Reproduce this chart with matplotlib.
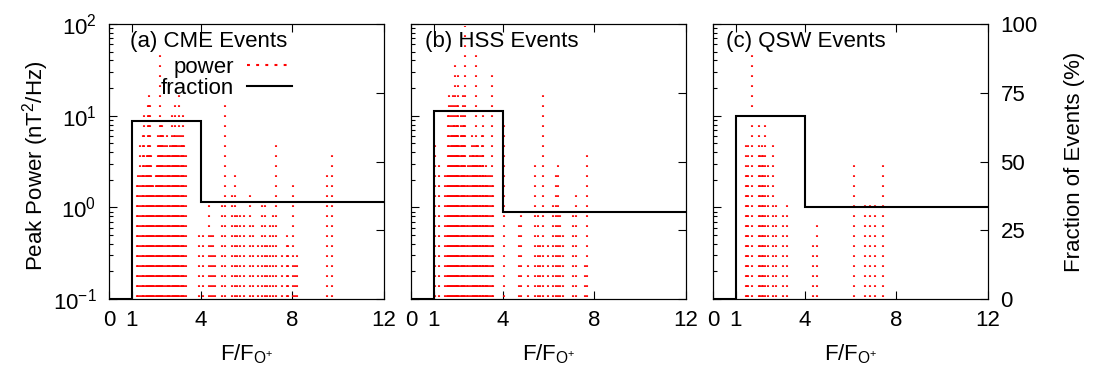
import matplotlib.pyplot as plt
from matplotlib.lines import Line2D

plt.rcParams['font.family'] = ['Liberation Sans', 'DejaVu Sans']
plt.rcParams['mathtext.default'] = 'regular'
plt.rcParams['font.size'] = 16

# bin edges of the fraction step curve
edges = [0, 1, 4, 12]

# (a) CME events: frequency ratio and peak power of each event
cme_freq = [1.24, 1.28, 1.35, 1.42, 1.50, 1.53, 1.60, 1.64, 1.69, 1.745, 1.79, 1.84,
            1.88, 1.93, 1.98, 2.03, 2.08, 2.12, 2.17, 2.21, 2.26, 2.30, 2.37, 2.45,
            2.52, 2.57, 2.62, 2.67, 2.74, 2.79, 2.84, 2.88, 2.93, 2.98, 3.02, 3.07,
            3.13, 3.18, 3.24, 3.29, 3.36,
            3.91, 4.12, 4.35, 4.44, 4.55, 4.62, 4.92, 5.06, 5.35, 5.50, 5.57, 5.72,
            5.89, 6.15, 6.30, 6.52, 6.66, 6.81, 6.88, 7.02, 7.14, 7.29, 7.53, 7.75,
            7.82, 8.01, 8.12, 8.22, 9.50, 9.74]
cme_power = [1.8, 2.3, 4.9, 2.3, 6.3, 10.5, 3.0, 3.8, 13.5, 17.3, 13.5, 3.8,
             1.8, 1.8, 1.4, 2.3, 3.0, 6.3, 4.9, 47, 8.1, 8.1, 6.3, 4.9,
             6.3, 3.8, 3.8, 4.9, 10.5, 4.9, 6.3, 13.5, 4.9, 6.3, 3.8, 17.3,
             6.3, 4.9, 10.5, 4.9, 3.8,
             0.52, 0.52, 1.09, 0.52, 0.52, 0.31, 1.09, 13.5, 1.4, 2.3, 0.85, 0.85,
             0.85, 1.4, 0.66, 0.40, 1.09, 1.09, 0.40, 0.66, 0.85, 4.9, 0.31, 0.52,
             0.40, 1.8, 0.24, 0.31, 2.3, 3.8]
cme_fraction = [0, 64.7, 35.3]

# (b) HSS events
hss_freq = [1.05, 1.22, 1.48, 1.56, 1.63, 1.67, 1.70, 1.73, 1.77, 1.82, 1.87, 1.92,
            1.95, 1.99, 2.02, 2.06, 2.11, 2.17, 2.22, 2.28, 2.32, 2.36, 2.43, 2.50,
            2.57, 2.65, 2.70, 2.75, 2.79, 2.84, 2.89, 2.94, 2.99, 3.03, 3.08, 3.12,
            3.15, 3.21, 3.27, 3.32, 3.37, 3.45, 3.52, 3.59,
            4.06, 4.73, 4.79, 5.12, 5.41, 5.56, 5.63, 5.77, 5.99, 6.21, 6.33, 6.40,
            6.50, 6.62, 7.08, 7.19, 7.59, 7.66]
hss_power = [4.9, 3.0, 2.3, 2.3, 10.5, 17.3, 3.8, 13.5, 6.3, 17.3, 8.1, 36.7,
             6.3, 13.5, 8.1, 28.6, 4.9, 10.5, 6.3, 17.3, 8.1, 95, 2.3, 3.0,
             3.8, 6.3, 3.8, 4.9, 3.0, 47, 4.9, 4.9, 3.8, 3.0, 6.3, 3.8,
             10.5, 2.3, 3.0, 1.8, 2.3, 2.3, 28.6, 1.8,
             8.1, 0.66, 0.85, 0.24, 3.0, 0.85, 0.40, 17.3, 0.40, 1.09, 2.3, 3.0,
             0.85, 0.52, 0.85, 1.4, 0.24, 3.8]
hss_fraction = [0, 68.4, 31.6]

# (c) QSW events
qsw_freq = [1.44, 1.49, 1.54, 1.69, 2.02, 2.07, 2.12, 2.20, 2.27, 2.41, 2.63, 2.75,
            3.04, 3.24, 4.38, 4.52, 6.17, 6.63, 6.85, 7.07, 7.43]
qsw_power = [4.9, 2.3, 4.9, 47, 8.1, 3.8, 4.9, 3.8, 10.5, 3.0, 4.9, 1.09,
             0.85, 1.09, 0.40, 0.66, 3.0, 1.09, 1.09, 1.09, 3.0]
qsw_fraction = [0, 66.7, 33.3]

titles = ['(a) CME Events', '(b) HSS Events', '(c) QSW Events']
freqs = [cme_freq, hss_freq, qsw_freq]
powers = [cme_power, hss_power, qsw_power]
fractions = [cme_fraction, hss_fraction, qsw_fraction]
xticks = [0, 1, 4, 8, 12]
right_ticks = [0, 25, 50, 75, 100]

W, H = 1098, 372
fig = plt.figure(figsize=(W / 100, H / 100), dpi=100)
lefts = [109, 411, 713]
title_x = [0.076, 0.051, 0.047]
dots = (3.8, (0.8, 4.0))

for i in range(3):
    ax = fig.add_axes([lefts[i] / W, 73 / H, 275 / W, 275 / H])
    ax.set_yscale('log')
    ax.set_ylim(0.1, 100)
    ax.set_xlim(0, 12)
    ax.vlines(freqs[i], 0.1, powers[i], colors='red', linewidth=1.5,
              linestyles=[dots])
    ax.set_xticks(xticks)
    ax.tick_params(which='both', direction='in', top=True, right=True, width=0.8)
    ax.tick_params(which='major', length=6)
    ax.tick_params(which='minor', length=3)
    ax.tick_params(axis='y', pad=9)
    ax.tick_params(axis='x', pad=8)
    if i > 0:
        ax.tick_params(which='both', labelleft=False)
    ax.set_xlabel(r'F/F$_{O^{+}}$', labelpad=8)

    ax2 = ax.twinx()
    ax2.set_ylim(0, 100)
    ax2.stairs(fractions[i], edges, baseline=None, color='black', linewidth=1.5)
    ax2.set_yticks(right_ticks)
    ax2.tick_params(direction='in', length=6, width=0.8, pad=9)
    if i < 2:
        ax2.tick_params(labelright=False)

    ax.text(title_x[i], 0.915, titles[i], transform=ax.transAxes,
            ha='left', va='baseline')

    if i == 0:
        h1 = Line2D([], [], color='red', linewidth=1.5, linestyle=(0, (1.4, 3.0)))
        h2 = Line2D([], [], color='black', linewidth=1.5)
        ax2.legend([h1, h2], ['power', 'fraction'], loc='upper right',
                   bbox_to_anchor=(0.664, 0.88), markerfirst=False, frameon=False,
                   handlelength=2.0, handletextpad=0.6, borderpad=0,
                   borderaxespad=0, labelspacing=0.0)

fig.text(0.032, 0.554, 'Peak Power (nT$^2$/Hz)', rotation=90,
         ha='center', va='center')
fig.text(0.979, 0.565, 'Fraction of Events (%)', rotation=90,
         ha='center', va='center')

fig.savefig('out.png', dpi=100)
